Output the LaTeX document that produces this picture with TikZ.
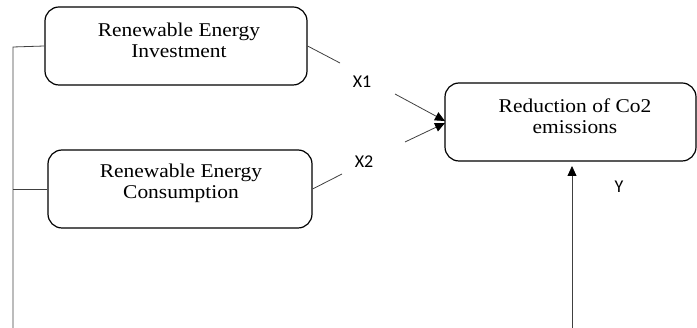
\documentclass[tikz,border=0pt]{standalone}
\usepackage{fontspec}
\setmainfont{Liberation Serif}
\newfontfamily\lblfont{Carlito}
\usetikzlibrary{arrows.meta}
\begin{document}
\begin{tikzpicture}[x=1pt,y=-1pt,
  box/.style={draw=black,line width=1.2pt,rounded corners=14pt,inner sep=0pt},
  btext/.style={align=center,font=\fontsize{19.5}{21}\selectfont,inner sep=0pt,xscale=1.1},
  vlab/.style={font=\lblfont\fontsize{18}{20}\selectfont,inner sep=0pt},
  conn/.style={draw=black!75,line width=0.8pt},
  arr/.style={conn,-{Triangle[length=10pt,width=9pt,color=black,fill=black]}}]
\useasboundingbox (0,0) rectangle (697,328);
% boxes
\node[box,minimum width=262pt,minimum height=78pt] (inv) at (176,46) {};
\node[box,minimum width=264pt,minimum height=78pt] (con) at (180,189) {};
\node[box,minimum width=251pt,minimum height=78pt] (red) at (570.5,122) {};
% texts
\node[btext] (tinv) at (179,40) {Renewable Energy\\Investment};
\node[btext] (tcon) at (181,183) {Renewable Energy\\Consumption};
\node[btext] (tred) at (575,116) {Reduction of Co2\\emissions};
% labels
\node[vlab] (x1) at (362,82) {X1};
\node[vlab] (x2) at (364,162) {X2};
\node[vlab] (y) at (619,187) {Y};
% connector points
\coordinate (a1) at (340,63);
\coordinate (b1) at (395,94);
\coordinate (a2) at (342,174);
\coordinate (b2) at (405,142);
\coordinate (e1) at (445,121);
\coordinate (e2) at (445,123);
\coordinate (ybot) at (572,328);
\coordinate (ytop) at (572,166);
\coordinate (l0) at (13,328);
\coordinate (l1) at (13,47);
\coordinate (l2) at (13,189);
% connectors
\draw[conn] (inv.east) -- (a1);
\draw[arr] (b1) -- (e1);
\draw[conn] (con.east) -- (a2);
\draw[arr] (b2) -- (e2);
\draw[arr] (ybot) -- (ytop);
\draw[conn] (l0) -- (l1) -- (inv.west);
\draw[conn] (l2) -- (con.west);
\end{tikzpicture}
\end{document}
